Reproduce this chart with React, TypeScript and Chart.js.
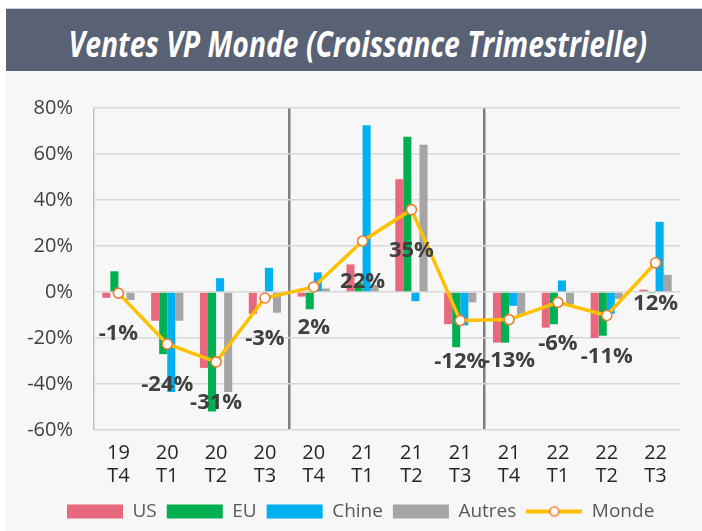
import React, { useEffect, useRef, useState } from 'react';
import { Chart, registerables } from 'chart.js';

Chart.register(...registerables);

const FONT = "'Open Sans', sans-serif";

const titleText = 'Ventes VP Monde (Croissance Trimestrielle)';
const yearLabels = ['19', '20', '20', '20', '20', '21', '21', '21', '21', '22', '22', '22'];
const quarterLabels = ['T4', 'T1', 'T2', 'T3', 'T4', 'T1', 'T2', 'T3', 'T4', 'T1', 'T2', 'T3'];
const seriesNames = ['US', 'EU', 'Chine', 'Autres', 'Monde'];
const usValues = [-2.5, -12.5, -33, -9.5, -2, 12, 49, -14, -22, -15.5, -20, 1];
const euValues = [9, -27, -52, 0, -7.5, 4, 67.5, -24, -22, -14, -19, -0.5];
const chineValues = [0, -43.5, 6, 10.5, 8.5, 72.5, -4, -14.5, -6, 5, -9.5, 30.5];
const autresValues = [-3.5, -12.5, -43.5, -9, 1.5, 3, 64, -4.5, -10.5, -5.5, -3, 7.5];
const mondeValues = [-0.5, -22.6, -30.4, -2.6, 2.2, 22.2, 35.8, -12.4, -12, -4.5, -10.2, 12.7];
const mondeLabels = ['-1%', '-24%', '-31%', '-3%', '2%', '22%', '35%', '-12%', '-13%', '-6%', '-11%', '12%'];
const yTicks = { min: -60, max: 80, step: 20 };
const separatorIndexes = [4, 8];

const barColors = ['#e8697d', '#00b050', '#00b0f0', '#a5a5a5'];
const lineColor = '#ffc000';
const markerBorder = '#ed7d31';

export default function App() {
  const canvasRef = useRef<HTMLCanvasElement>(null);
  const titleRef = useRef<HTMLSpanElement>(null);
  const [scaleX, setScaleX] = useState(1);

  useEffect(() => {
    const measure = () => {
      const el = titleRef.current;
      if (el && el.offsetWidth) setScaleX(579 / el.offsetWidth);
    };
    measure();
    if ((document as any).fonts && (document as any).fonts.ready) {
      (document as any).fonts.ready.then(measure);
    }
  }, []);

  useEffect(() => {
    const canvas = canvasRef.current;
    if (!canvas) return;

    const legendLine = document.createElement('canvas');
    legendLine.width = 56;
    legendLine.height = 14;
    const lc = legendLine.getContext('2d')!;
    lc.strokeStyle = lineColor;
    lc.lineWidth = 4;
    lc.beginPath();
    lc.moveTo(0, 7);
    lc.lineTo(56, 7);
    lc.stroke();
    lc.beginPath();
    lc.arc(28, 7, 4.5, 0, Math.PI * 2);
    lc.fillStyle = '#ffffff';
    lc.fill();
    lc.strokeStyle = markerBorder;
    lc.lineWidth = 1.6;
    lc.stroke();

    const labelPlugin = {
      id: 'mondeLabels',
      afterLayout(chart: any) {
        if (chart.legend) chart.legend.left = 57;
      },
      afterDatasetsDraw(chart: any) {
        const meta = chart.getDatasetMeta(4);
        const ctx = chart.ctx;
        ctx.save();
        ctx.font = `bold 22px ${FONT}`;
        ctx.fillStyle = '#404040';
        ctx.textAlign = 'center';
        ctx.textBaseline = 'middle';
        meta.data.forEach((pt: any, i: number) => {
          ctx.fillText(mondeLabels[i], pt.x, pt.y + 41);
        });
        ctx.restore();
      },
    };

    const barSets = [usValues, euValues, chineValues, autresValues].map((vals, i) => ({
      type: 'bar' as const,
      label: seriesNames[i],
      data: vals,
      backgroundColor: barColors[i],
      borderWidth: 0,
      categoryPercentage: 0.66,
      barPercentage: 1,
      order: 2,
    }));

    const chart = new Chart(canvas, {
      type: 'bar',
      data: {
        labels: yearLabels.map((y, i) => [y, quarterLabels[i]]),
        datasets: [
          ...barSets,
          {
            type: 'line' as const,
            label: seriesNames[4],
            data: mondeValues,
            borderColor: lineColor,
            borderWidth: 3.5,
            pointRadius: 5,
            pointBackgroundColor: '#ffffff',
            pointBorderColor: markerBorder,
            pointBorderWidth: 1.6,
            tension: 0,
            order: 1,
          },
        ] as any,
      },
      options: {
        responsive: false,
        animation: false,
        layout: { padding: { top: 33, right: 22, left: 0, bottom: 0 } },
        plugins: {
          tooltip: { enabled: false },
          title: { display: false },
          legend: {
            position: 'bottom',
            align: 'start',
            labels: {
              usePointStyle: true,
              pointStyleWidth: 56,
              boxHeight: 14,
              padding: 10,
              color: '#595959',
              font: { family: FONT, size: 19 },
              generateLabels: () =>
                seriesNames.map((name, i) => ({
                  text: name,
                  fillStyle: i < 4 ? barColors[i] : lineColor,
                  strokeStyle: 'rgba(0,0,0,0)',
                  lineWidth: 0,
                  pointStyle: i < 4 ? 'rect' : legendLine,
                  hidden: false,
                  datasetIndex: i,
                  fontColor: '#595959',
                })) as any,
            },
          },
        },
        scales: {
          x: {
            grid: {
              offset: true,
              drawTicks: false,
              color: (c: any) => {
                if (c.index === 0) return '#bfbfbf';
                if (separatorIndexes.includes(c.index)) return '#7f7f7f';
                if (c.index === yearLabels.length) return '#d0d0d0';
                return 'rgba(0,0,0,0)';
              },
              lineWidth: (c: any) => (separatorIndexes.includes(c.index) ? 2.5 : 1.5),
            },
            border: { display: false },
            ticks: {
              color: '#262626',
              font: { family: FONT, size: 20, lineHeight: 1.15 },
              padding: 12,
              maxRotation: 0,
              autoSkip: false,
            },
            afterFit: (s: any) => {
              s.height = 62;
            },
          },
          y: {
            min: yTicks.min,
            max: yTicks.max,
            grid: { color: '#d9d9d9', lineWidth: 1.5, drawTicks: false },
            border: { display: false },
            ticks: {
              stepSize: yTicks.step,
              padding: 21,
              color: '#404040',
              font: { family: FONT, size: 20 },
              callback: (v: any) => `${v}%`,
            },
            afterFit: (s: any) => {
              s.width = 94;
            },
          },
        },
      } as any,
      plugins: [labelPlugin],
    });

    return () => chart.destroy();
  }, []);

  return (
    <div
      style={{
        position: 'absolute',
        left: 0,
        top: 0,
        width: 702,
        height: 531,
        background: '#ffffff',
        overflow: 'hidden',
      }}
    >
      <div
        style={{
          position: 'absolute',
          left: 6,
          top: 71,
          right: 0,
          bottom: 0,
          background: '#f7f7f7',
        }}
      />
      <div
        style={{
          position: 'absolute',
          left: 6,
          top: 8,
          width: 696,
          height: 63,
          background: '#596175',
          borderTop: '1px solid #c9ccd3',
          boxSizing: 'border-box',
        }}
      />
      <div
        style={{
          position: 'absolute',
          left: 0,
          top: 26,
          width: 702,
          paddingLeft: 13,
          boxSizing: 'border-box',
          display: 'flex',
          justifyContent: 'center',
          lineHeight: 1,
          whiteSpace: 'nowrap',
        }}
      >
        <span
          ref={titleRef}
          style={{
            display: 'inline-block',
            flex: 'none',
            fontFamily: FONT,
            fontStyle: 'italic',
            fontWeight: 700,
            fontSize: 35,
            lineHeight: 1,
            color: '#ffffff',
            transform: `scaleX(${scaleX})`,
            transformOrigin: 'center',
          }}
        >
          {titleText}
        </span>
      </div>
      <canvas
        ref={canvasRef}
        width={702}
        height={456}
        style={{ position: 'absolute', left: 0, top: 75, width: 702, height: 456 }}
      />
    </div>
  );
}
